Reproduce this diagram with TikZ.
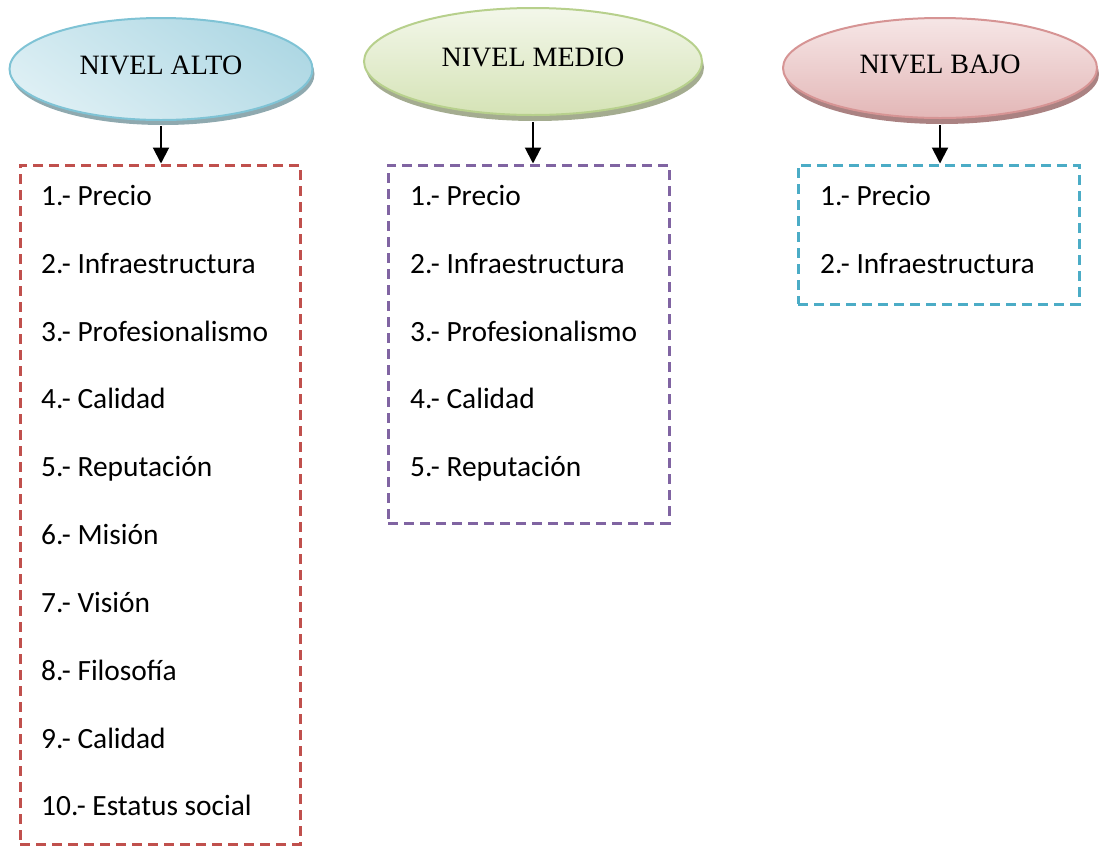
\documentclass[tikz,border=0pt]{standalone}
\usepackage{fontspec}
\setmainfont{Liberation Serif}
\newfontfamily\calibfont{Carlito}
\usetikzlibrary{shapes.geometric,shadows,arrows.meta}
\definecolor{altoedge}{HTML}{7FC3D5}
\definecolor{altotop}{HTML}{AFD8E4}
\definecolor{altobot}{HTML}{DDEFF4}
\definecolor{altoshadow}{HTML}{8FA9AF}
\definecolor{medioedge}{HTML}{B7D08C}
\definecolor{mediotop}{HTML}{F3F7EA}
\definecolor{mediobot}{HTML}{D5E3B6}
\definecolor{medioshadow}{HTML}{A4AC90}
\definecolor{bajoedge}{HTML}{D69494}
\definecolor{bajotop}{HTML}{F6E6E6}
\definecolor{bajobot}{HTML}{E3B7B7}
\definecolor{bajoshadow}{HTML}{AA8282}
\definecolor{redbox}{HTML}{C0504D}
\definecolor{purplebox}{HTML}{8064A2}
\definecolor{tealbox}{HTML}{4BACC6}
\tikzset{
  level/.style={ellipse, draw, line width=2pt, inner sep=0pt, font=\fontsize{28}{30}\selectfont},
  listbox/.style={rectangle, draw, line width=3pt, dash pattern=on 10pt off 6pt, inner sep=0pt},
  item/.style={anchor=base west, inner sep=0pt, font=\calibfont\fontsize{29.4}{30}\selectfont},
  link/.style={-{Triangle[width=16pt,length=16pt]}, line width=2pt, black}
}
\begin{document}
\begin{tikzpicture}[x=1pt,y=-1pt]
\useasboundingbox (0,0) rectangle (1099,847);
% level ellipses
\node[level, draw=altoedge, top color=altotop, bottom color=altobot, shading angle=-35,
  minimum width=303pt, minimum height=102pt,
  drop shadow={shadow xshift=2pt, shadow yshift=-5pt, fill=altoshadow, opacity=1}]
  (alto) at (161,69) {\raisebox{7pt}{NIVEL ALTO}};
\node[level, draw=medioedge, top color=mediotop, bottom color=mediobot,
  minimum width=338pt, minimum height=107pt,
  drop shadow={shadow xshift=2pt, shadow yshift=-6pt, fill=medioshadow, opacity=1}]
  (medio) at (533,61.5) {\raisebox{9pt}{NIVEL MEDIO}};
\node[level, draw=bajoedge, top color=bajotop, bottom color=bajobot,
  minimum width=314pt, minimum height=100pt,
  drop shadow={shadow xshift=2pt, shadow yshift=-6pt, fill=bajoshadow, opacity=1}]
  (bajo) at (940,68) {\raisebox{8pt}{NIVEL BAJO}};
% boxes
\node[listbox, draw=redbox, minimum width=280pt, minimum height=679pt] (boxalto) at (160,504.5) {};
\node[listbox, draw=purplebox, minimum width=281pt, minimum height=358pt] (boxmedio) at (528.5,344) {};
\node[listbox, draw=tealbox, minimum width=281pt, minimum height=139pt] (boxbajo) at (938.5,234.5) {};
% arrows
\draw[link] ([yshift=-5pt]alto.south) -- (alto.south |- boxalto.north);
\draw[link] ([yshift=-6pt]medio.south) -- (medio.south |- boxmedio.north);
\draw[link] ([yshift=-6pt]bajo.south) -- (bajo.south |- boxbajo.north);
% items alto
\node[item] (a1) at (41,205) {1.- Precio};
\node[item] (a2) at (41,273) {2.- Infraestructura};
\node[item] (a3) at (41,341) {3.- Profesionalismo};
\node[item] (a4) at (41,408) {4.- Calidad};
\node[item] (a5) at (41,476) {5.- Reputación};
\node[item] (a6) at (41,544) {6.- Misión};
\node[item] (a7) at (41,612) {7.- Visión};
\node[item] (a8) at (41,680) {8.- Filosofía};
\node[item] (a9) at (41,748) {9.- Calidad};
\node[item] (a10) at (41,815) {10.- Estatus social};
% items medio
\node[item] (m1) at (410,205) {1.- Precio};
\node[item] (m2) at (410,273) {2.- Infraestructura};
\node[item] (m3) at (410,341) {3.- Profesionalismo};
\node[item] (m4) at (410,408) {4.- Calidad};
\node[item] (m5) at (410,476) {5.- Reputación};
% items bajo
\node[item] (b1) at (820,205) {1.- Precio};
\node[item] (b2) at (820,273) {2.- Infraestructura};
\end{tikzpicture}
\end{document}
